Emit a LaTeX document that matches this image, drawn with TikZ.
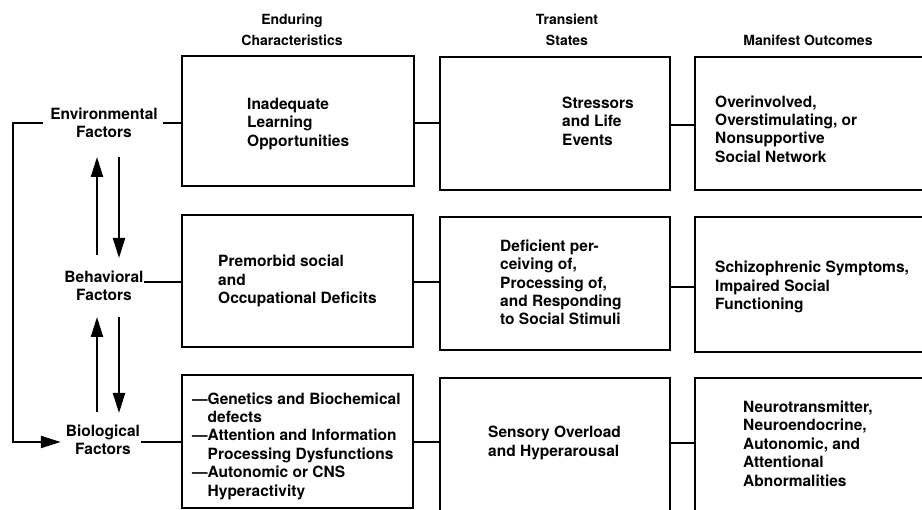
\documentclass[tikz,border=0pt]{standalone}
\usepackage{fontspec}
\setmainfont{TeX Gyre Heros}
\usetikzlibrary{arrows.meta}
\begin{document}
\begin{tikzpicture}[x=1pt,y=-1pt,
  box/.style={draw,line width=2.5pt,inner sep=0pt},
  txt/.style={align=left,anchor=west,inner sep=0pt,font=\bfseries\fontsize{15.5}{18.4}\selectfont},
  head/.style={align=center,inner sep=0pt,font=\bfseries\fontsize{14}{21}\selectfont},
  side/.style={align=center,inner sep=0pt,font=\bfseries\fontsize{15.5}{18.5}\selectfont},
  link/.style={line width=2.5pt},
  flow/.style={line width=2.2pt,-{Triangle[length=20pt,width=12pt]}}]
\useasboundingbox (0,0) rectangle (922,510);

% column headings
\node[head] (h1) at (292,30) {Enduring\\Characteristics};
\node[head] (h2) at (567,30) {Transient\\States};
\node[head] (h3) at (808,40) {Manifest Outcomes};

% row labels
\node[side] (env) at (104,123) {Environmental\\Factors};
\node[side] (beh) at (104,286) {Behavioral\\Factors};
\node[side] (bio) at (103,440) {Biological\\Factors};

% boxes
\node[box,minimum width=232pt,minimum height=130pt] (a1) at (298,121) {};
\node[box,minimum width=231pt,minimum height=132pt] (a2) at (297.5,281) {};
\node[box,minimum width=231pt,minimum height=133pt] (a3) at (297.5,441.5) {};
\node[box,minimum width=230pt,minimum height=133pt] (b1) at (555,123.5) {};
\node[box,minimum width=230pt,minimum height=133pt] (b2) at (555,283.5) {};
\node[box,minimum width=230pt,minimum height=136pt] (b3) at (555,446) {};
\node[box,minimum width=240pt,minimum height=133pt] (c1) at (815,123.5) {};
\node[box,minimum width=240pt,minimum height=135pt] (c2) at (815,284.5) {};
\node[box,minimum width=240pt,minimum height=136pt] (c3) at (815,446) {};

% box texts
\node[txt] (ta1) at (247,124) {Inadequate\\Learning\\Opportunities};
\node[txt] (tb1) at (562,121) {Stressors\\and Life\\Events};
\node[txt] (tc1) at (715,129) {Overinvolved,\\Overstimulating, or\\Nonsupportive\\Social Network};
\node[txt] (ta2) at (218,281) {Premorbid social\\and\\Occupational Deficits};
\node[txt] (tb2) at (500,282.5) {Deficient per-\\ceiving of,\\Processing of,\\and Responding\\to Social Stimuli};
\node[txt] (tc2) at (715,287) {Schizophrenic Symptoms,\\Impaired Social\\Functioning};
% the list items hang their dashes to the left of the text column
\node[txt] (ta3) at (207.5,446) {\llap{---}Genetics and Biochemical\\defects\\\llap{---}Attention and Information\\Processing Dysfunctions\\\llap{---}Autonomic or CNS\\Hyperactivity};
\node[txt] (tb3) at (488,443) {Sensory Overload\\and Hyperarousal};
\node[txt] (tc3) at (743,443.5) {Neurotransmitter,\\Neuroendocrine,\\Autonomic, and\\Attentional\\Abnormalities};

% links between the boxes of each row
\draw[link] (a1.east |- 0,123) -- (b1.west |- 0,123);
\draw[link] (b1.east |- 0,125) -- (c1.west |- 0,125);
\draw[link] (a2.east |- 0,282) -- (b2.west |- 0,282);
\draw[link] (b2.east |- 0,287) -- (c2.west |- 0,287);
\draw[link] (a3.east |- 0,442) -- (b3.west |- 0,442);
\draw[link] (b3.east |- 0,443) -- (c3.west |- 0,443);

% links from the row labels into the first column
\draw[link] ([xshift=5pt]env.east |- 0,123) -- (a1.west |- 0,123);
\draw[link] (beh.east |- 0,282) -- (a2.west |- 0,282);
\draw[link] ([xshift=1pt]bio.east |- 0,442) -- (a3.west |- 0,442);

% feedback loop from environment to biology
\coordinate (loop) at (13,123);
\draw[flow] ([xshift=-7pt]env.west |- 0,123) -- (loop) |- ([xshift=-5pt]bio.west |- 0,442);

% reciprocal arrows between the levels
\draw[flow] (97,255) -- (97,157);
\draw[flow] (119,157) -- (119,258);
\draw[flow] (97,412) -- (97,317);
\draw[flow] (119,317) -- (119,413);
\end{tikzpicture}
\end{document}
